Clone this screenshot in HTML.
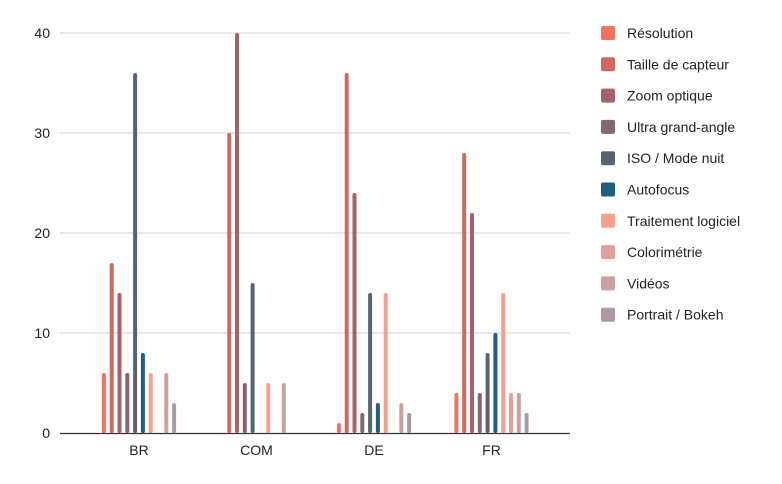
<!DOCTYPE html>
<html><head><meta charset="utf-8"><style>
body{margin:0;background:#fff;}
svg{display:block;font-family:"Liberation Sans",sans-serif;}
</style></head><body>
<svg id="chart" width="782" height="484"></svg>
<script>
const categories=["BR","COM","DE","FR"];
const seriesNames=["Résolution","Taille de capteur","Zoom optique","Ultra grand-angle","ISO / Mode nuit","Autofocus","Traitement logiciel","Colorimétrie","Vidéos","Portrait / Bokeh"];
const seriesColors=["#f4715b","#d0695d","#a8616a","#806770","#5c6370","#1f5f80","#f99f8b","#e0a096","#caa0a0","#ab9aa3"];
const resolution=[6,0,1,4];
const taille=[17,30,36,28];
const zoom=[14,40,24,22];
const ultra=[6,5,2,4];
const iso=[36,15,14,8];
const autofocus=[8,0,3,10];
const traitement=[6,5,14,14];
const colorimetrie=[0,0,0,4];
const videos=[6,5,3,4];
const portrait=[3,0,2,2];
const series=[resolution,taille,zoom,ultra,iso,autofocus,traitement,colorimetrie,videos,portrait];
const yTicks=[0,10,20,30,40];
const NS="http://www.w3.org/2000/svg";
const svg=document.getElementById("chart");
function y(v){return 433-v*10;}
function xc(i){return 80.25+117.5*(i+0.5);}
function mk(t,a,p){const e=document.createElementNS(NS,t);for(const k in a)e.setAttribute(k,a[k]);(p||svg).appendChild(e);return e;}
yTicks.forEach(t=>{
  if(t>0){const g=mk("line",{x1:60,x2:570,y1:y(t),y2:y(t),stroke:"#cfcfcf","stroke-width":1});
  
  }
  const l=mk("text",{x:50,y:y(t)+5,"text-anchor":"end","font-size":14,fill:"#222"});
  l.textContent=t;
  
  
});
series.forEach((vals,s)=>{
  vals.forEach((v,i)=>{
    if(v<=0&&v!==0)return;
    if(v===0)return;
    const x=xc(i)+(s-4.5)*7.8;
    const r=mk("rect",{x:x-2,y:y(v),width:4,height:433-y(v),rx:2,fill:seriesColors[s]});
    
    
  });
});
const ax=mk("line",{x1:60,x2:570,y1:433.5,y2:433.5,stroke:"#333","stroke-width":1.2});


categories.forEach((c,i)=>{
  const t=mk("text",{x:xc(i),y:455,"text-anchor":"middle","font-size":14,fill:"#222"});
  t.textContent=c;
  
  
});
seriesNames.forEach((n,s)=>{
  const g=mk("g",{});
  
  
  const yy=33+s*31.3;
  mk("rect",{x:601,y:yy-7,width:14,height:14,rx:2,fill:seriesColors[s]},g);
  const t=mk("text",{x:627,y:yy+5,"font-size":14,fill:"#222"},g);
  t.textContent=n;
});
</script>
</body></html>
